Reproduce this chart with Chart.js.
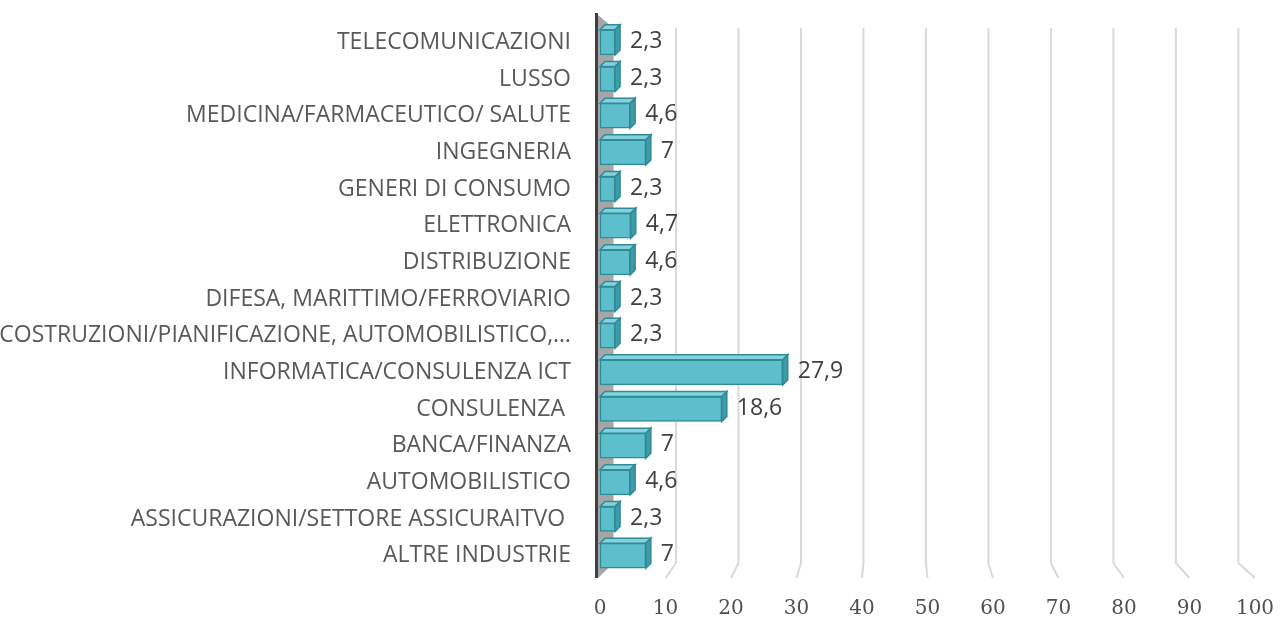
<!DOCTYPE html>
<html>
<head>
<meta charset="utf-8">
<script src="https://cdn.jsdelivr.net/npm/chart.js@4"></script>
<style>
  html, body { margin: 0; padding: 0; background: #fff; }
  #wrap { width: 1280px; height: 619px; }
</style>
</head>
<body>
<div id="wrap"><canvas id="settori" width="1280" height="619"></canvas></div>
<script>
// settori, dal basso verso l'alto come nel grafico Excel
const categories = [
  'ALTRE INDUSTRIE',
  'ASSICURAZIONI/SETTORE ASSICURAITVO ',
  'AUTOMOBILISTICO',
  'BANCA/FINANZA',
  'CONSULENZA ',
  'INFORMATICA/CONSULENZA ICT',
  'COSTRUZIONI/PIANIFICAZIONE, AUTOMOBILISTICO,…',
  'DIFESA, MARITTIMO/FERROVIARIO',
  'DISTRIBUZIONE',
  'ELETTRONICA',
  'GENERI DI CONSUMO',
  'INGEGNERIA',
  'MEDICINA/FARMACEUTICO/ SALUTE',
  'LUSSO',
  'TELECOMUNICAZIONI'
];
const percentuali = [7, 2.3, 4.6, 7, 18.6, 27.9, 2.3, 2.3, 4.6, 4.7, 2.3, 7, 4.6, 2.3, 2.3];
const xTicks = [0, 10, 20, 30, 40, 50, 60, 70, 80, 90, 100];

const DEPTH = 5;

// pareti e griglia in finta prospettiva
const wallPlugin = {
  id: 'wall',
  beforeDatasetsDraw(chart) {
    const { ctx, chartArea, scales } = chart;
    const xs = scales.x;
    const left = chartArea.left, top = chartArea.top, bottom = chartArea.bottom;
    const backLeft = left + 13.5;
    const ratio = 0.954;
    ctx.save();
    // griglia
    ctx.strokeStyle = '#d9d9d9';
    ctx.lineWidth = 2;
    xTicks.forEach(v => {
      if (v === 0) return;
      const fx = xs.getPixelForValue(v);
      const bx = backLeft + (fx - left) * ratio;
      ctx.beginPath();
      ctx.moveTo(bx, top + 4);
      ctx.lineTo(bx, bottom - 11);
      ctx.lineTo(fx, bottom + 4);
      ctx.stroke();
    });
    // parete laterale
    ctx.fillStyle = '#a6a6a6';
    ctx.beginPath();
    ctx.moveTo(left - 2, top - 9);
    ctx.lineTo(backLeft, top + 4);
    ctx.lineTo(backLeft, bottom - 11);
    ctx.lineTo(left - 2, bottom + 4);
    ctx.closePath();
    ctx.fill();
    // asse
    ctx.strokeStyle = '#3f3f3f';
    ctx.lineWidth = 3;
    ctx.beginPath();
    ctx.moveTo(left - 3.5, top - 11);
    ctx.lineTo(left - 3.5, bottom + 4);
    ctx.stroke();
    ctx.restore();
  }
};

// facce 3D delle barre + etichette dei valori
const boxPlugin = {
  id: 'box3d',
  afterDatasetsDraw(chart) {
    const { ctx } = chart;
    const meta = chart.getDatasetMeta(0);
    ctx.save();
    ctx.lineWidth = 1.5;
    ctx.strokeStyle = '#2f8b98';
    meta.data.forEach((bar, i) => {
      const { x, y, base, height } = bar.getProps(['x', 'y', 'base', 'height'], true);
      const t = y - height / 2, b = y + height / 2;
      // faccia superiore
      ctx.fillStyle = '#86d2dc';
      ctx.beginPath();
      ctx.moveTo(base, t);
      ctx.lineTo(base + DEPTH, t - DEPTH);
      ctx.lineTo(x + DEPTH, t - DEPTH);
      ctx.lineTo(x, t);
      ctx.closePath();
      ctx.fill();
      ctx.stroke();
      // faccia destra
      ctx.fillStyle = '#3f9ba8';
      ctx.beginPath();
      ctx.moveTo(x, t);
      ctx.lineTo(x + DEPTH, t - DEPTH);
      ctx.lineTo(x + DEPTH, b - DEPTH);
      ctx.lineTo(x, b);
      ctx.closePath();
      ctx.fill();
      ctx.stroke();
      // valore
      ctx.fillStyle = '#404040';
      ctx.font = '23px "Open Sans"';
      ctx.textAlign = 'left';
      ctx.textBaseline = 'middle';
      ctx.fillText(String(percentuali[i]).replace('.', ','), x + DEPTH + 10, y - 1);
    });
    ctx.restore();
  }
};

new Chart(document.getElementById('settori'), {
  type: 'bar',
  data: {
    labels: categories,
    datasets: [{
      data: percentuali,
      backgroundColor: '#5ebfcc',
      borderColor: '#2f8b98',
      borderWidth: 1.5,
      borderSkipped: false,
      barThickness: 25
    }]
  },
  options: {
    indexAxis: 'y',
    responsive: false,
    animation: false,
    layout: { padding: { top: 24, right: 25, left: 0, bottom: 0 } },
    plugins: { legend: { display: false }, tooltip: { enabled: false } },
    scales: {
      x: {
        min: 0, max: 100,
        afterBuildTicks: s => { s.ticks = xTicks.map(v => ({ value: v })); },
        afterFit: s => { s.height = 45; s.paddingLeft = 0; s.paddingRight = 0; },
        grid: { display: false, drawTicks: false },
        border: { display: false },
        ticks: { padding: 23, color: '#505050', font: { family: '"DejaVu Serif"', size: 20 } }
      },
      y: {
        reverse: true,
        afterFit: s => { s.width = 600; s.paddingTop = 0; s.paddingBottom = 0; },
        grid: { display: false, drawTicks: false },
        border: { display: false },
        ticks: { padding: 29, color: '#595959', font: { family: '"Open Sans"', size: 23 }, autoSkip: false }
      }
    }
  },
  plugins: [wallPlugin, boxPlugin]
});
</script>
</body>
</html>
